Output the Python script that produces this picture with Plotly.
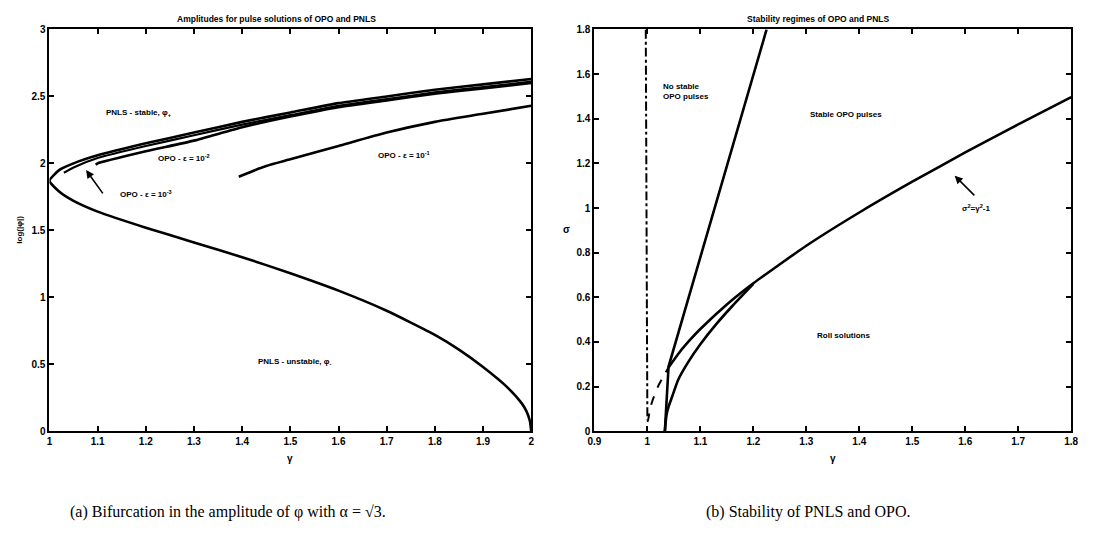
import plotly.graph_objects as go

# ---------------- Panel (a) data ----------------
pnls_gamma = [2.0, 1.997, 1.99, 1.98, 1.95, 1.9, 1.85, 1.8, 1.7, 1.6, 1.5, 1.4, 1.3, 1.2, 1.1, 1.05, 1.02, 1.0,
              1.02, 1.05, 1.1, 1.2, 1.3, 1.4, 1.5, 1.6, 1.7, 1.8, 1.9, 2.0]
pnls_logphi = [0.0, 0.08, 0.15, 0.21, 0.33, 0.48, 0.61, 0.72, 0.9, 1.05, 1.18, 1.3, 1.41, 1.52, 1.64, 1.72, 1.79, 1.87,
               1.95, 2.0, 2.06, 2.15, 2.23, 2.31, 2.38, 2.45, 2.5, 2.55, 2.59, 2.63]

opo3_gamma = [1.03, 1.05, 1.1, 1.2, 1.3, 1.4, 1.5, 1.6, 1.7, 1.8, 1.9, 2.0]
opo3_logphi = [1.93, 1.97, 2.04, 2.13, 2.21, 2.29, 2.36, 2.43, 2.48, 2.53, 2.57, 2.61]

opo2_gamma = [1.096, 1.1, 1.2, 1.3, 1.4, 1.5, 1.6, 1.7, 1.8, 1.9, 2.0]
opo2_logphi = [1.99, 2.0, 2.09, 2.17, 2.27, 2.35, 2.42, 2.47, 2.52, 2.56, 2.60]

opo1_gamma = [1.393, 1.42, 1.45, 1.5, 1.6, 1.7, 1.8, 1.9, 2.0]
opo1_logphi = [1.90, 1.94, 1.98, 2.03, 2.13, 2.23, 2.31, 2.37, 2.43]

# ---------------- Panel (b) data ----------------
vline_gamma = [0.997, 0.998, 0.999, 1.0]
vline_sigma = [1.8, 1.2, 0.6, 0.05]

dash_gamma = [1.0, 1.001, 1.005, 1.01, 1.02, 1.03, 1.04]
dash_sigma = [0.05, 0.045, 0.1, 0.14, 0.2, 0.245, 0.286]

curve_gamma = [1.04, 1.06, 1.08, 1.1, 1.15, 1.2, 1.3, 1.4, 1.5, 1.6, 1.7, 1.8]
curve_sigma = [0.286, 0.352, 0.408, 0.458, 0.568, 0.663, 0.831, 0.98, 1.118, 1.249, 1.375, 1.497]

steep_gamma = [1.033, 1.04, 1.225]
steep_sigma = [0.0, 0.29, 1.8]

lower_gamma = [1.033, 1.036, 1.04, 1.046, 1.058, 1.077, 1.1, 1.13, 1.16, 1.2]
lower_sigma = [0.0, 0.07, 0.11, 0.15, 0.23, 0.31, 0.39, 0.48, 0.56, 0.66]

xa_ticks = [1, 1.1, 1.2, 1.3, 1.4, 1.5, 1.6, 1.7, 1.8, 1.9, 2]
ya_ticks = [0, 0.5, 1, 1.5, 2, 2.5, 3]
xb_ticks = [0.9, 1, 1.1, 1.2, 1.3, 1.4, 1.5, 1.6, 1.7, 1.8]
yb_ticks = [0, 0.2, 0.4, 0.6, 0.8, 1, 1.2, 1.4, 1.6, 1.8]

LW = 2.6
black = "#000000"
fig = go.Figure()

def line(x, y, xa, ya, dash="solid", width=LW):
    fig.add_trace(go.Scatter(x=x, y=y, mode="lines", xaxis=xa, yaxis=ya,
                             line=dict(color=black, width=width, dash=dash, shape="spline", smoothing=0.5),
                             showlegend=False, hoverinfo="skip"))

line(pnls_gamma, pnls_logphi, "x", "y")
line(opo3_gamma, opo3_logphi, "x", "y", width=2.2)
line(opo2_gamma, opo2_logphi, "x", "y")
line(opo1_gamma, opo1_logphi, "x", "y")

line(vline_gamma, vline_sigma, "x2", "y2", dash="dashdot", width=2)
line(dash_gamma, dash_sigma, "x2", "y2", dash="dash", width=2)
line(curve_gamma, curve_sigma, "x2", "y2")
fig.add_trace(go.Scatter(x=steep_gamma, y=steep_sigma, mode="lines", xaxis="x2", yaxis="y2",
                         line=dict(color=black, width=LW), showlegend=False, hoverinfo="skip"))
line(lower_gamma, lower_sigma, "x2", "y2")

tickfont = dict(family="Liberation Sans", size=10, color=black, weight="bold")
axis_common = dict(showgrid=False, zeroline=False, showline=True, linecolor=black, linewidth=2,
                   mirror="ticks", ticks="inside", ticklen=5, tickcolor=black, tickwidth=1.5,
                   tickfont=tickfont)

fig.update_layout(
    width=1095, height=536,
    margin=dict(l=0, r=0, t=0, b=0),
    paper_bgcolor="white", plot_bgcolor="white",
    xaxis=dict(domain=[43/1095, 531/1095], range=[1, 2], tickvals=xa_ticks,
               ticktext=["1", "1.1", "1.2", "1.3", "1.4", "1.5", "1.6", "1.7", "1.8", "1.9", "2"],
               anchor="y", **axis_common),
    yaxis=dict(domain=[101/536, 512/536], range=[0, 3], tickvals=ya_ticks,
               ticktext=["0", "0.5", "1", "1.5", "2", "2.5", "3"], anchor="x", **axis_common),
    xaxis2=dict(domain=[595/1095, 1078/1095], range=[0.9, 1.8], tickvals=xb_ticks,
                ticktext=["0.9", "1", "1.1", "1.2", "1.3", "1.4", "1.5", "1.6", "1.7", "1.8"],
                anchor="y2", **axis_common),
    yaxis2=dict(domain=[101/536, 512/536], range=[0, 1.8], tickvals=yb_ticks,
                ticktext=["0", "0.2", "0.4", "0.6", "0.8", "1", "1.2", "1.4", "1.6", "1.8"],
                anchor="x2", **axis_common),
)

small = dict(family="Liberation Sans", size=8, color=black, weight="bold")
anns = []

def txt(x, y, s, xref, yref, **kw):
    d = dict(x=x, y=y, text=s, xref=xref, yref=yref, showarrow=False, font=small,
             xanchor="center", yanchor="middle")
    d.update(kw)
    anns.append(d)

# Titles
txt(273/1095, 1 - 13/536, "Amplitudes for pulse solutions of OPO and PNLS", "paper", "paper",
    font=dict(family="Liberation Sans", size=8.5, color=black, weight="bold"))
txt(822/1095, 1 - 13/536, "Stability regimes of OPO and PNLS", "paper", "paper",
    font=dict(family="Liberation Sans", size=8.5, color=black, weight="bold"))
# Axis titles
axt = dict(family="Liberation Sans", size=10, color=black, weight="bold")
txt(287/1095, 1 - 463/536, "γ", "paper", "paper", font=axt)
txt(837/1095, 1 - 463/536, "γ", "paper", "paper", font=axt)
txt(13/1095, 1 - 229/536, "log(|φ|)", "paper", "paper", textangle=-90)
txt(567/1095, 1 - 229/536, "σ", "paper", "paper", font=axt)

# Panel (a) labels
txt(1.185, 2.38, "PNLS - stable, φ<sub>+</sub>", "x", "y")
txt(1.28, 2.04, "OPO - ε = 10<sup>-2</sup>", "x", "y")
txt(1.2, 1.77, "OPO - ε = 10<sup>-3</sup>", "x", "y")
txt(1.735, 2.06, "OPO - ε = 10<sup>-1</sup>", "x", "y")
txt(1.51, 0.52, "PNLS - unstable, φ<sub>-</sub>", "x", "y")
anns.append(dict(x=1.076, y=1.95, ax=1.113, ay=1.765, xref="x", yref="y", axref="x", ayref="y",
                 text="", showarrow=True, arrowhead=2, arrowsize=1, arrowwidth=1.6, arrowcolor=black))

# Panel (b) labels
txt(1.025, 1.52, "No stable<br>OPO pulses", "x2", "y2", xanchor="left", align="left")
txt(1.375, 1.42, "Stable OPO pulses", "x2", "y2")
txt(1.37, 0.43, "Roll solutions", "x2", "y2")
txt(1.622, 1.0, "σ<sup>2</sup>=γ<sup>2</sup>-1", "x2", "y2")
anns.append(dict(x=1.58, y=1.145, ax=1.62, ay=1.05, xref="x2", yref="y2", axref="x2", ayref="y2",
                 text="", showarrow=True, arrowhead=2, arrowsize=1, arrowwidth=1.6, arrowcolor=black))

# Captions
cap = dict(family="Liberation Serif", size=16, color=black)
txt(224/1095, 1 - 518/536, "(a) Bifurcation in the amplitude of φ with α = √3.", "paper", "paper", font=cap)
txt(811/1095, 1 - 518/536, "(b) Stability of PNLS and OPO.", "paper", "paper", font=cap)

fig.update_layout(annotations=anns)
fig.write_html("out.html")
